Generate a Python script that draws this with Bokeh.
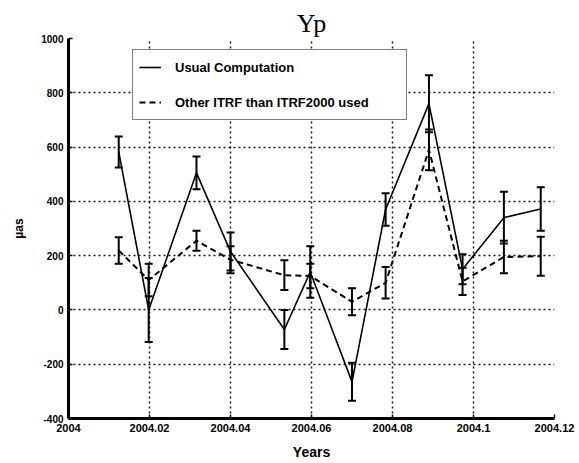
from bokeh.plotting import figure
from bokeh.models import (ColumnDataSource, Whisker, TeeHead, FixedTicker,
                          Legend, LegendItem, Range1d)
from bokeh.embed import file_html
from bokeh.resources import INLINE

# Observation epochs (fractional years)
dates = [2004.0124, 2004.0198, 2004.0316, 2004.0400, 2004.0533, 2004.0597,
         2004.0700, 2004.0783, 2004.0890, 2004.0973, 2004.1075, 2004.1166]

# Yp residuals in micro-arcseconds, usual computation
usual = [582, 0, 505, 215, -72, 140, -265, 370, 760, 150, 340, 372]
usual_err = [57, 118, 60, 70, 72, 95, 70, 60, 105, 55, 95, 80]

# Yp residuals when another ITRF than ITRF2000 is used
other = [219, 110, 255, 185, 128, 125, 30, 100, 590, 105, 195, 198]
other_err = [49, 60, 37, 50, 55, 45, 50, 58, 75, 50, 60, 72]

x_ticks = [2004.0, 2004.02, 2004.04, 2004.06, 2004.08, 2004.1, 2004.12]
x_tick_labels = ["2004", "2004.02", "2004.04", "2004.06", "2004.08",
                 "2004.1", "2004.12"]
y_ticks = [-400, -200, 0, 200, 400, 600, 800, 1000]
y_tick_labels = ["-400", "-200", "0", "200", "400", "600", "800", "1000"]


def series_source(y, err):
    return ColumnDataSource(dict(
        x=dates, y=y,
        lo=[v - e for v, e in zip(y, err)],
        hi=[v + e for v, e in zip(y, err)],
    ))


src_usual = series_source(usual, usual_err)
src_other = series_source(other, other_err)

p = figure(width=579, height=463,
           x_range=Range1d(2004.0, 2004.12), y_range=Range1d(-400, 1000),
           output_backend="svg", toolbar_location=None, title="Yp",
           min_border_left=68, min_border_right=25,
           min_border_top=38, min_border_bottom=45)

p.background_fill_color = "white"
p.border_fill_color = "white"
p.outline_line_color = None

p.title.text_font = "Liberation Serif"
p.title.text_font_size = "26px"
p.title.text_font_style = "normal"
p.title.text_color = "black"
p.title.align = "center"
p.title.standoff = 2

# axes
p.xaxis.ticker = FixedTicker(ticks=x_ticks)
p.xaxis.major_label_overrides = dict(zip(x_ticks, x_tick_labels))
p.yaxis.ticker = FixedTicker(ticks=y_ticks)
p.yaxis.major_label_overrides = dict(zip(y_ticks, y_tick_labels))
for ax in (p.xaxis, p.yaxis):
    ax.axis_line_color = "black"
    ax.axis_line_width = 3
    ax.major_tick_in = 4
    ax.major_tick_out = 0
    ax.major_tick_line_color = "black"
    ax.major_tick_line_width = 1.5
    ax.minor_tick_line_color = None
    ax.major_label_text_font = "Liberation Sans"
    ax.major_label_text_font_style = "bold"
    ax.major_label_text_color = "black"
    ax.axis_label_text_font = "Liberation Sans"
    ax.axis_label_text_font_style = "bold"
    ax.axis_label_text_color = "black"

p.xaxis.major_label_text_font_size = "11px"
p.xaxis.major_label_standoff = 5
p.xaxis.axis_label = "Years"
p.xaxis.axis_label_text_font_size = "14px"
p.xaxis.axis_label_standoff = 9

p.yaxis.major_label_text_font_size = "10px"
p.yaxis.major_label_standoff = 5
p.yaxis.axis_label = "µas"
p.yaxis.axis_label_text_font_size = "12px"
p.yaxis.axis_label_standoff = 12

# dotted grid
for g in (p.xgrid, p.ygrid):
    g.grid_line_color = "black"
    g.grid_line_dash = "2 3"
    g.grid_line_width = 1.5
    g.grid_line_alpha = 0.9
p.xgrid.ticker = FixedTicker(ticks=x_ticks)
p.ygrid.ticker = FixedTicker(ticks=y_ticks)

# series lines
r_usual = p.line("x", "y", source=src_usual, line_color="black",
                 line_width=1.6)
r_other = p.line("x", "y", source=src_other, line_color="black",
                 line_width=2, line_dash="6 4")

# error bars
for src in (src_usual, src_other):
    p.add_layout(Whisker(
        base="x", upper="hi", lower="lo", source=src,
        line_color="black", line_width=2,
        upper_head=TeeHead(size=8, line_color="black", line_width=2),
        lower_head=TeeHead(size=8, line_color="black", line_width=2),
    ))

legend = Legend(items=[
    LegendItem(label="Usual Computation", renderers=[r_usual]),
    LegendItem(label="Other ITRF than ITRF2000 used", renderers=[r_other]),
], location=(64, 298))
legend.margin = 0
legend.padding = 6
legend.spacing = 13
legend.glyph_width = 22
legend.glyph_height = 22
legend.label_height = 22
legend.label_width = 225
legend.label_standoff = 14
legend.label_text_font = "Liberation Sans"
legend.label_text_font_style = "bold"
legend.label_text_font_size = "13px"
legend.label_text_color = "black"
legend.border_line_color = "black"
legend.border_line_width = 1.5
legend.background_fill_color = "white"
legend.background_fill_alpha = 1.0
p.add_layout(legend)

open("out.html", "w").write(file_html(p, INLINE))
